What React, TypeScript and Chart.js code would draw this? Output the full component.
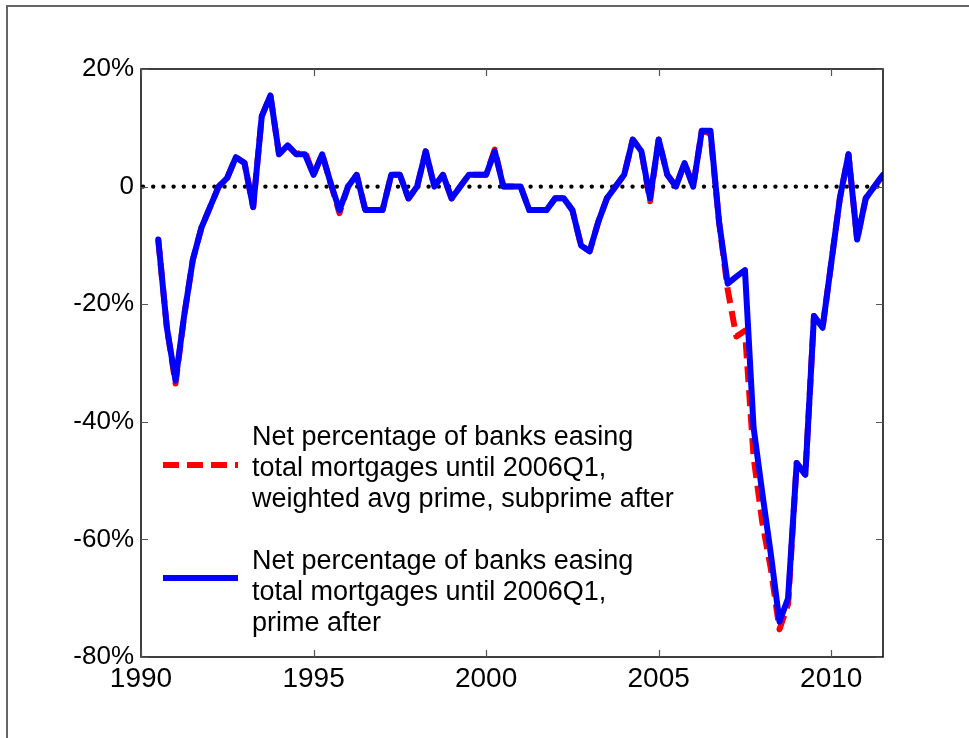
import React, { useEffect, useRef } from "react";
import { Chart, registerables } from "chart.js";

Chart.register(...registerables);

// Quarterly survey dates
const quarters = [
  "1990Q3", "1990Q4",
  "1991Q1", "1991Q2", "1991Q3", "1991Q4",
  "1992Q1", "1992Q2", "1992Q3", "1992Q4",
  "1993Q1", "1993Q2", "1993Q3", "1993Q4",
  "1994Q1", "1994Q2", "1994Q3", "1994Q4",
  "1995Q1", "1995Q2", "1995Q3", "1995Q4",
  "1996Q1", "1996Q2", "1996Q3", "1996Q4",
  "1997Q1", "1997Q2", "1997Q3", "1997Q4",
  "1998Q1", "1998Q2", "1998Q3", "1998Q4",
  "1999Q1", "1999Q2", "1999Q3", "1999Q4",
  "2000Q1", "2000Q2", "2000Q3", "2000Q4",
  "2001Q1", "2001Q2", "2001Q3", "2001Q4",
  "2002Q1", "2002Q2", "2002Q3", "2002Q4",
  "2003Q1", "2003Q2", "2003Q3", "2003Q4",
  "2004Q1", "2004Q2", "2004Q3", "2004Q4",
  "2005Q1", "2005Q2", "2005Q3", "2005Q4",
  "2006Q1", "2006Q2", "2006Q3", "2006Q4",
  "2007Q1", "2007Q2", "2007Q3", "2007Q4",
  "2008Q1", "2008Q2", "2008Q3", "2008Q4",
  "2009Q1", "2009Q2", "2009Q3", "2009Q4",
  "2010Q1", "2010Q2", "2010Q3", "2010Q4",
  "2011Q1", "2011Q2", "2011Q3",
];

// Red dashed: weighted avg prime, subprime after (%)
const subprimeAfter = [
  -9, -24,
  -33.5, -22, -12.5, -7,
  -3.5, 0, 1.5, 5,
  4, -3.5, 12, 15.5,
  5.5, 7, 5.5, 6,
  2, 5.5, 0.5, -4.5,
  0, 2, -4, -4,
  -4, 2, 2, -2,
  0, 6, 0, 2,
  -2, 0, 2, 2,
  2, 6.3, 0, 0,
  0, -4, -4, -4,
  -2, -2, -4, -10,
  -11, -6, -2, 0,
  2, 8, 6, -2.5,
  8, 2, 0, 4,
  0, 9.5, 9, -6,
  -17.5, -25.5, -24.5, -46,
  -57, -65, -75.3, -71,
  -47, -49, -22, -24,
  -13, -2, 5.5, -9,
  -2, 0, 2,
];

// Blue solid: prime after (%)
const primeAfter = [
  -9, -24,
  -33, -22, -12.5, -7,
  -3.5, 0, 1.5, 5,
  4, -3.5, 12, 15.5,
  5.5, 7, 5.5, 5.5,
  2, 5.5, 0.5, -4,
  0, 2, -4, -4,
  -4, 2, 2, -2,
  0, 6, 0, 2,
  -2, 0, 2, 2,
  2, 6, 0, 0,
  0, -4, -4, -4,
  -2, -2, -4, -10,
  -11, -6, -2, 0,
  2, 8, 6, -2,
  8, 2, 0, 4,
  0, 9.5, 9.5, -6,
  -16.5, -15.3, -14.2, -41,
  -52, -62.5, -74, -70,
  -47, -49, -22, -24,
  -13, -2, 5.5, -9,
  -2, 0, 2,
];

const xTickValues = [1990, 1995, 2000, 2005, 2010];
const yTickValues = [20, 0, -20, -40, -60, -80];
const X_MIN = 1990;
const X_MAX = 2011.5;
const Y_MIN = -80;
const Y_MAX = 20;

const legendRedLines = [
  "Net percentage of banks easing",
  "total mortgages until 2006Q1,",
  "weighted avg prime, subprime after",
];
const legendBlueLines = [
  "Net percentage of banks easing",
  "total mortgages until 2006Q1,",
  "prime after",
];

const FONT = "'Liberation Sans', Arial, Helvetica, sans-serif";

function quarterToYear(q: string): number {
  const year = parseInt(q.slice(0, 4), 10);
  const qn = parseInt(q.slice(5), 10);
  return year + (qn - 1) / 4;
}

const framePlugin = {
  id: "framePlugin",
  beforeDatasetsDraw(chart: any) {
    const { ctx, chartArea: a, scales } = chart;
    const y0 = scales.y.getPixelForValue(0);
    ctx.save();
    ctx.strokeStyle = "#000";
    ctx.lineWidth = 4.4;
    ctx.lineCap = "round";
    ctx.setLineDash([0, 10.2]);
    ctx.beginPath();
    ctx.moveTo(a.left + 2, y0);
    ctx.lineTo(a.right, y0);
    ctx.stroke();
    ctx.restore();
  },
  afterDatasetsDraw(chart: any) {
    const { ctx, chartArea: a, scales } = chart;
    ctx.save();
    // axis box
    ctx.strokeStyle = "#000";
    ctx.lineWidth = 1.5;
    ctx.strokeRect(a.left, a.top, a.right - a.left, a.bottom - a.top);
    // inward ticks
    ctx.strokeStyle = "#555";
    ctx.lineWidth = 1.2;
    const tl = 7;
    ctx.beginPath();
    xTickValues.forEach((v) => {
      const px = Math.round(scales.x.getPixelForValue(v)) + 0.5;
      ctx.moveTo(px, a.bottom);
      ctx.lineTo(px, a.bottom - tl);
      ctx.moveTo(px, a.top);
      ctx.lineTo(px, a.top + tl);
    });
    yTickValues.forEach((v) => {
      const py = Math.round(scales.y.getPixelForValue(v)) + 0.5;
      ctx.moveTo(a.left, py);
      ctx.lineTo(a.left + tl, py);
      ctx.moveTo(a.right, py);
      ctx.lineTo(a.right - tl, py);
    });
    ctx.stroke();

    // legend
    const entries = [
      { ds: chart.data.datasets[0], lines: legendRedLines, top: a.top + 369, sampleOff: 27 },
      { ds: chart.data.datasets[1], lines: legendBlueLines, top: a.top + 493, sampleOff: 16 },
    ];
    const sampleX0 = a.left + 22;
    const sampleX1 = a.left + 97;
    const textX = a.left + 111;
    const lineH = 31;
    entries.forEach((e) => {
      ctx.save();
      ctx.strokeStyle = e.ds.borderColor;
      ctx.lineWidth = e.ds.borderWidth;
      ctx.lineCap = "butt";
      ctx.setLineDash(e.ds.borderDash || []);
      ctx.beginPath();
      const sy = e.top + e.sampleOff;
      ctx.moveTo(sampleX0, sy);
      ctx.lineTo(sampleX1, sy);
      ctx.stroke();
      ctx.restore();
      ctx.fillStyle = "#000";
      ctx.font = `27px ${FONT}`;
      ctx.textAlign = "left";
      ctx.textBaseline = "middle";
      e.lines.forEach((t, i) => {
        ctx.fillText(t, textX, e.top + i * lineH);
      });
    });
    ctx.restore();
  },
};

export default function App() {
  const canvasRef = useRef<HTMLCanvasElement | null>(null);

  useEffect(() => {
    if (!canvasRef.current) return;
    const xs = quarters.map(quarterToYear);
    const chart = new Chart(canvasRef.current, {
      type: "line",
      data: {
        datasets: [
          {
            label: legendRedLines.join(" "),
            data: xs.map((x, i) => ({ x, y: subprimeAfter[i] })),
            borderColor: "#ff0000",
            borderWidth: 6,
            borderDash: [16, 8],
            borderCapStyle: "butt",
            borderJoinStyle: "round",
            pointRadius: 0,
            tension: 0,
            fill: false,
            order: 2,
          },
          {
            label: legendBlueLines.join(" "),
            data: xs.map((x, i) => ({ x, y: primeAfter[i] })),
            borderColor: "#0000ff",
            borderWidth: 6,
            borderCapStyle: "round",
            borderJoinStyle: "round",
            pointRadius: 0,
            tension: 0,
            fill: false,
            order: 1,
          },
        ],
      },
      options: {
        animation: false,
        responsive: true,
        maintainAspectRatio: false,
        layout: { padding: { top: 69, right: 86, bottom: 0, left: 0 } },
        plugins: {
          legend: { display: false },
          tooltip: { enabled: false },
        },
        scales: {
          x: {
            type: "linear",
            min: X_MIN,
            max: X_MAX,
            grid: { display: false, drawTicks: false },
            border: { display: false },
            afterBuildTicks: (scale: any) => {
              scale.ticks = xTickValues.map((v) => ({ value: v }));
            },
            afterFit: (scale: any) => {
              scale.height = 81;
            },
            ticks: {
              autoSkip: false,
              maxRotation: 0,
              padding: 5,
              color: "#000",
              font: { family: FONT, size: 28 },
              callback: (v: any) => String(v),
            },
          },
          y: {
            type: "linear",
            min: Y_MIN,
            max: Y_MAX,
            grid: { display: false, drawTicks: false },
            border: { display: false },
            afterBuildTicks: (scale: any) => {
              scale.ticks = yTickValues.map((v) => ({ value: v }));
            },
            afterFit: (scale: any) => {
              scale.width = 141;
            },
            ticks: {
              autoSkip: false,
              padding: 7,
              color: "#000",
              font: { family: FONT, size: 26 },
              callback: (v: any) => (v === 0 ? "0" : `${v}%`),
            },
          },
        },
      },
      plugins: [framePlugin],
    });
    return () => chart.destroy();
  }, []);

  return (
    <div
      style={{
        position: "absolute",
        left: 0,
        top: 0,
        width: 969,
        height: 738,
        overflow: "hidden",
        background: "#fff",
      }}
    >
      <div
        style={{
          position: "absolute",
          left: 6,
          top: 5,
          width: 2000,
          height: 2000,
          borderLeft: "2px solid #666",
          borderTop: "2px solid #666",
        }}
      />
      <canvas ref={canvasRef} style={{ position: "absolute", left: 0, top: 0, width: 969, height: 738 }} />
    </div>
  );
}
